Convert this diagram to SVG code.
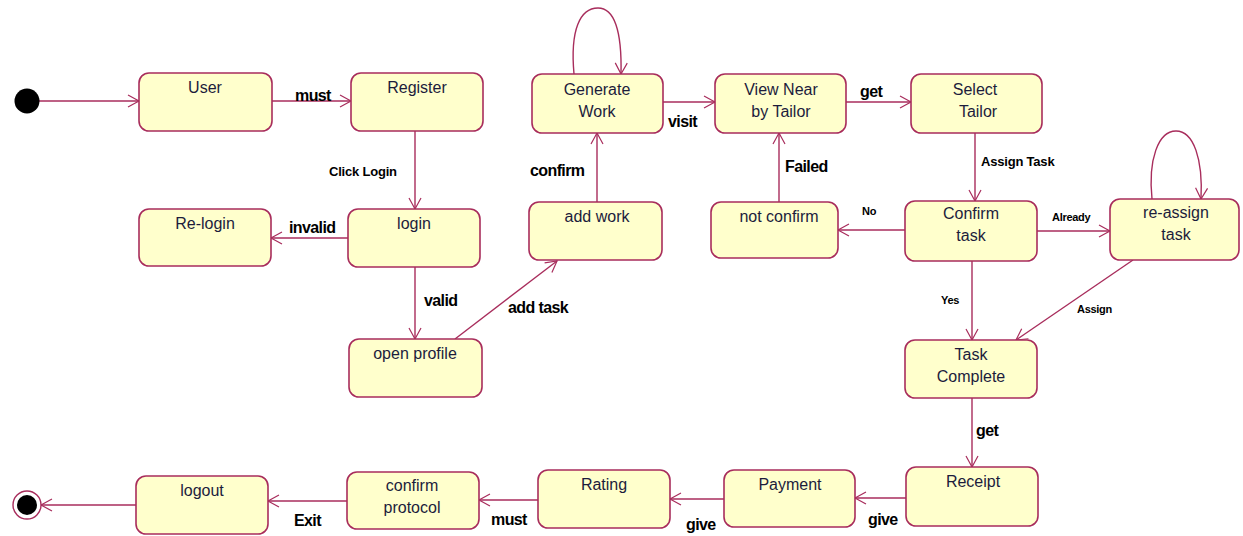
<svg xmlns="http://www.w3.org/2000/svg" width="1243" height="536" viewBox="0 0 1243 536">
<defs>
<marker id="arr" markerWidth="14" markerHeight="14" refX="12" refY="7" orient="auto" markerUnits="userSpaceOnUse">
<path d="M1,1 L12,7 L1,13" fill="none" stroke="#a82d5c" stroke-width="1.2"/>
</marker>
</defs>
<style>
.st{fill:#ffffcc;stroke:#a82d5c;stroke-width:1.6}
.t{font-family:"Liberation Sans",Arial,sans-serif;font-size:16px;fill:#1c1c3c;text-anchor:middle}
.c{fill:none;stroke:#a82d5c;stroke-width:1.4;marker-end:url(#arr)}
.l{font-family:"Liberation Sans",Arial,sans-serif;font-size:16px;font-weight:bold;fill:#000;letter-spacing:-0.6px}
.m{font-family:"Liberation Sans",Arial,sans-serif;font-size:13px;font-weight:bold;fill:#000;letter-spacing:-0.2px}
.s{font-family:"Liberation Sans",Arial,sans-serif;font-size:11px;font-weight:bold;fill:#000;letter-spacing:-0.3px}
</style>
<rect width="1243" height="536" fill="#fff"/>
<g id="connectors">
<path class="c" d="M39,101 L139,101"/>
<path class="c" d="M272,101 L351,101"/>
<path class="c" d="M415,131 L415,209"/>
<path class="c" d="M348,238 L271,238"/>
<path class="c" d="M415,267 L415,339"/>
<path class="c" d="M455,339 L557,261"/>
<path class="c" d="M597,202 L597,133"/>
<path class="c" d="M574,74 C570,30 580,8 598,8 C614,8 622,30 621,74"/>
<path class="c" d="M663,102 L715,102"/>
<path class="c" d="M846,102 L911,102"/>
<path class="c" d="M975,133 L975,201"/>
<path class="c" d="M905,230 L838,230"/>
<path class="c" d="M779,202 L779,133"/>
<path class="c" d="M1037,231 L1110,231"/>
<path class="c" d="M1152,199 C1148,160 1158,131 1176,131 C1194,131 1203,160 1201,199"/>
<path class="c" d="M972,261 L972,340"/>
<path class="c" d="M1133,260 L1016,340"/>
<path class="c" d="M972,398 L972,467"/>
<path class="c" d="M906,498 L855,498"/>
<path class="c" d="M724,499 L670,499"/>
<path class="c" d="M538,500 L479,500"/>
<path class="c" d="M347,501 L268,501"/>
<path class="c" d="M136,505 L41,505"/>
<text class="l" x="295" y="101">must</text>
<text class="m" x="329" y="176">Click Login</text>
<text class="l" x="289" y="233">invalid</text>
<text class="l" x="424" y="306">valid</text>
<text class="l" x="508" y="313">add task</text>
<text class="l" x="530" y="176">confirm</text>
<text class="l" x="668" y="127">visit</text>
<text class="l" x="860" y="97">get</text>
<text class="m" x="981" y="166">Assign Task</text>
<text class="s" x="862" y="215">No</text>
<text class="l" x="785" y="172">Failed</text>
<text class="s" x="1052" y="221">Already</text>
<text class="s" x="941" y="304">Yes</text>
<text class="s" x="1077" y="313">Assign</text>
<text class="l" x="976" y="436">get</text>
<text class="l" x="868" y="525">give</text>
<text class="l" x="686" y="530">give</text>
<text class="l" x="491" y="525">must</text>
<text class="l" x="294" y="526">Exit</text>
</g>
<g id="initial"><circle cx="27" cy="101" r="12.5" fill="#000"/></g>
<g id="final"><circle cx="27" cy="505" r="14" fill="#fff" stroke="#a82d5c" stroke-width="1.4"/><circle cx="27" cy="505" r="10" fill="#000"/></g>
<g id="user"><rect class="st" x="139" y="73" width="133" height="58" rx="10"/><text class="t" x="205" y="93">User</text></g>
<g id="register"><rect class="st" x="351" y="73" width="132" height="58" rx="10"/><text class="t" x="417" y="93">Register</text></g>
<g id="login"><rect class="st" x="348" y="209" width="132" height="58" rx="10"/><text class="t" x="414" y="229">login</text></g>
<g id="relogin"><rect class="st" x="139" y="209" width="132" height="57" rx="10"/><text class="t" x="205" y="229">Re-login</text></g>
<g id="openprofile"><rect class="st" x="349" y="339" width="133" height="58" rx="10"/><text class="t" x="415" y="359">open profile</text></g>
<g id="addwork"><rect class="st" x="529" y="202" width="133" height="58" rx="10"/><text class="t" x="597" y="222">add work</text></g>
<g id="generatework"><rect class="st" x="532" y="74" width="131" height="59" rx="10"/><text class="t" x="597" y="95">Generate</text><text class="t" x="597" y="117">Work</text></g>
<g id="viewnear"><rect class="st" x="715" y="74" width="131" height="59" rx="10"/><text class="t" x="781" y="95">View Near</text><text class="t" x="781" y="117">by Tailor</text></g>
<g id="selecttailor"><rect class="st" x="911" y="74" width="131" height="59" rx="10"/><text class="t" x="975" y="95">Select</text><text class="t" x="978" y="117">Tailor</text></g>
<g id="notconfirm"><rect class="st" x="711" y="202" width="127" height="56" rx="10"/><text class="t" x="779" y="222">not confirm</text></g>
<g id="confirmtask"><rect class="st" x="905" y="201" width="132" height="60" rx="10"/><text class="t" x="971" y="219">Confirm</text><text class="t" x="971" y="241">task</text></g>
<g id="reassign"><rect class="st" x="1110" y="199" width="129" height="61" rx="10"/><text class="t" x="1176" y="218">re-assign</text><text class="t" x="1176" y="240">task</text></g>
<g id="taskcomplete"><rect class="st" x="905" y="340" width="132" height="58" rx="10"/><text class="t" x="971" y="360">Task</text><text class="t" x="971" y="382">Complete</text></g>
<g id="receipt"><rect class="st" x="906" y="467" width="132" height="59" rx="10"/><text class="t" x="973" y="487">Receipt</text></g>
<g id="payment"><rect class="st" x="724" y="470" width="131" height="57" rx="10"/><text class="t" x="790" y="490">Payment</text></g>
<g id="rating"><rect class="st" x="538" y="470" width="132" height="58" rx="10"/><text class="t" x="604" y="490">Rating</text></g>
<g id="confirmprotocol"><rect class="st" x="347" y="472" width="132" height="57" rx="10"/><text class="t" x="412" y="491">confirm</text><text class="t" x="412" y="513">protocol</text></g>
<g id="logout"><rect class="st" x="136" y="476" width="132" height="58" rx="10"/><text class="t" x="202" y="496">logout</text></g>
</svg>
